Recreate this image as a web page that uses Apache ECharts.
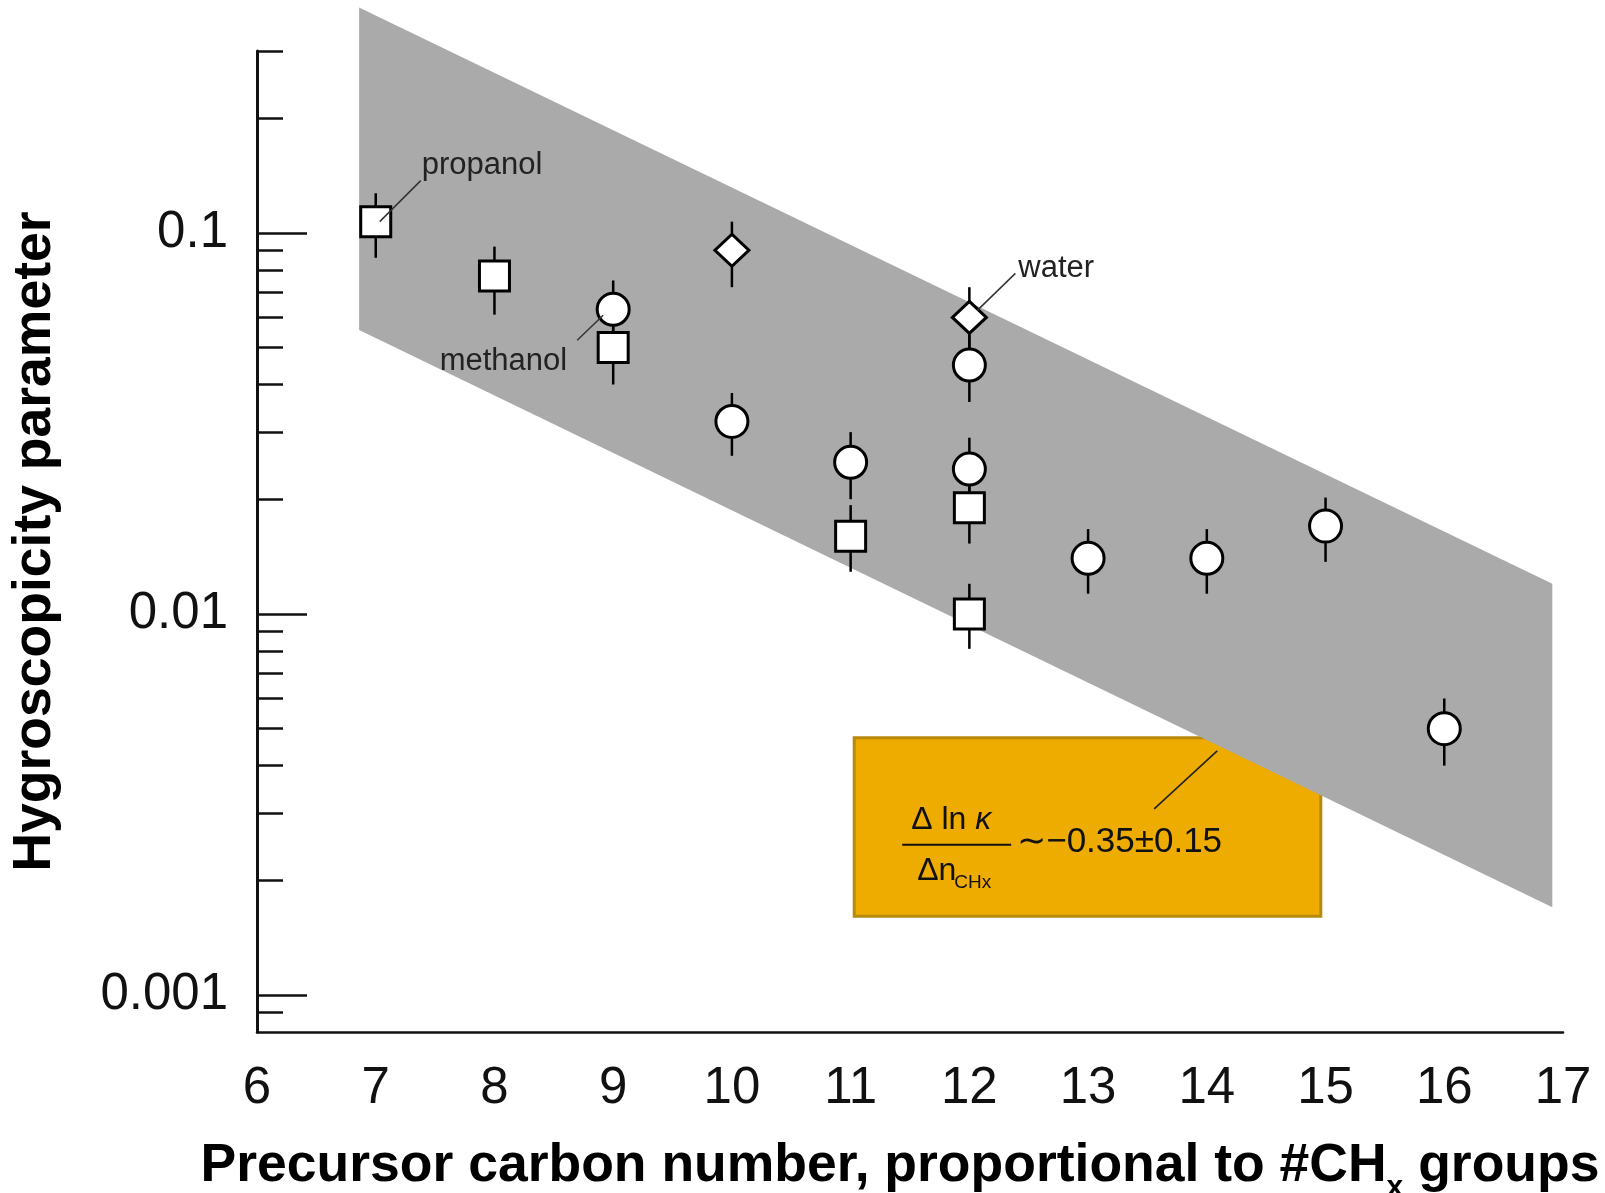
<!DOCTYPE html>
<html>
<head>
<meta charset="utf-8">
<script src="https://cdn.jsdelivr.net/npm/echarts@6/dist/echarts.min.js"></script>
<style>
html, body { margin: 0; padding: 0; background: #fff; }
#chart { width: 1605px; height: 1193px; }
</style>
</head>
<body>
<div id="chart"></div>
<script>
// axes
var xMin = 6, xMax = 17;
var yMin = 0.0008, yMax = 0.3;
var yMajorTicks = [0.001, 0.01, 0.1];
var yMajorLabels = ['0.001', '0.01', '0.1'];
var yMinorTicks = [0.0009, 0.002, 0.003, 0.004, 0.005, 0.006, 0.007, 0.008, 0.009,
                   0.02, 0.03, 0.04, 0.05, 0.06, 0.07, 0.08, 0.09, 0.2, 0.3];

// squares
var squareX  = [7, 8, 9, 11, 12, 12];
var squareY  = [0.107, 0.077, 0.050, 0.016, 0.019, 0.010];
var squareLo = [0.086, 0.061, 0.040, 0.0129, 0.0153, 0.0081];
var squareHi = [0.127, 0.092, 0.060, 0.0193, 0.0229, 0.0120];

// circles
var circleX  = [9, 10, 11, 12, 12, 13, 14, 15, 16];
var circleY  = [0.063, 0.032, 0.025, 0.045, 0.024, 0.014, 0.014, 0.017, 0.0050];
var circleLo = [0.050, 0.026, 0.020, 0.036, 0.019, 0.0113, 0.0113, 0.0137, 0.0040];
var circleHi = [0.075, 0.038, 0.030, 0.054, 0.029, 0.0167, 0.0167, 0.0202, 0.0060];

// diamonds
var diamondX  = [10, 12];
var diamondY  = [0.090, 0.060];
var diamondLo = [0.072, 0.048];
var diamondHi = [0.107, 0.072];

// grey band (slope ~ -0.35 in ln kappa per carbon)
var bandX      = [6.86, 16.91];
var bandTop    = [0.39, 0.0120];
var bandBottom = [0.0556, 0.0017];

// annotation box corners [x0, y0, x1, y1]
var boxCorners = [11.03, 0.00473, 14.96, 0.00161];

// point labels
var labelNames = ['propanol', 'methanol', 'water'];
var labelX = [7, 9, 12];
var labelY = [0.107, 0.063, 0.060];

var FONT = "'Liberation Sans', Arial, Helvetica, sans-serif";

function zip(xs, ys) {
  var out = [];
  for (var i = 0; i < xs.length; i++) out.push([xs[i], ys[i]]);
  return out;
}
function zip3(xs, a, b) {
  var out = [];
  for (var i = 0; i < xs.length; i++) out.push([xs[i], a[i], b[i]]);
  return out;
}
function logs(arr) {
  return arr.map(function (v) { return Math.log10(v); });
}

function renderErr(params, api) {
  var lo = api.coord([api.value(0), api.value(1)]);
  var hi = api.coord([api.value(0), api.value(2)]);
  return {
    type: 'line',
    shape: { x1: lo[0], y1: lo[1], x2: hi[0], y2: hi[1] },
    style: { stroke: '#000', lineWidth: 2.5 }
  };
}

function renderBand(params, api) {
  var pts = [
    api.coord([api.value(0), api.value(1)]),
    api.coord([api.value(2), api.value(3)]),
    api.coord([api.value(2), api.value(4)]),
    api.coord([api.value(0), api.value(5)])
  ];
  return { type: 'polygon', shape: { points: pts }, style: { fill: '#aaaaaa' } };
}

function renderBox(params, api) {
  var p0 = api.coord([api.value(0), api.value(1)]);
  var p1 = api.coord([api.value(2), api.value(3)]);
  return {
    type: 'rect',
    shape: { x: p0[0], y: p0[1], width: p1[0] - p0[0], height: p1[1] - p0[1] },
    style: { fill: '#efac00', stroke: '#b8890c', lineWidth: 3 }
  };
}

function renderFormula(params, api) {
  var p0 = api.coord([api.value(0), api.value(1)]);
  var x = p0[0], y = p0[1];
  return {
    type: 'group',
    children: [
      { type: 'line', shape: { x1: x + 300, y1: y + 71, x2: x + 363, y2: y + 13 },
        style: { stroke: '#222', lineWidth: 1.6 } },
      { type: 'text', x: x + 97, y: y + 82,
        style: { text: '{a|Δ ln }{k|κ}', align: 'center', verticalAlign: 'middle',
          rich: { a: { fontSize: 32, fontFamily: FONT, fill: '#111' },
                  k: { fontSize: 32, fontFamily: FONT, fontStyle: 'italic', fill: '#111' } } } },
      { type: 'line', shape: { x1: x + 48, y1: y + 107, x2: x + 157, y2: y + 107 },
        style: { stroke: '#111', lineWidth: 2 } },
      { type: 'text', x: x + 63, y: y + 133,
        style: { text: 'Δn', align: 'left', verticalAlign: 'middle',
          fontSize: 32, fontFamily: FONT, fill: '#111' } },
      { type: 'text', x: x + 100, y: y + 145,
        style: { text: 'CHx', align: 'left', verticalAlign: 'middle',
          fontSize: 19, fontFamily: FONT, fill: '#111' } },
      { type: 'text', x: x + 163, y: y + 104,
        style: { text: '∼−0.35±0.15', align: 'left', verticalAlign: 'middle',
          fontSize: 35, fontFamily: FONT, fill: '#111' } }
    ]
  };
}

// label offsets in pixels from the marker: leader start, leader end, text anchor
var labelLayout = {
  propanol: { l: [4, 0, 45, -41], t: [46, -56], align: 'left' },
  methanol: { l: [-10, 6, -36, 31], t: [-46, 52], align: 'right' },
  water:    { l: [8, -7, 46, -44], t: [49, -49], align: 'left' }
};

function renderLabel(params, api) {
  var p = api.coord([api.value(0), api.value(1)]);
  var name = labelNames[params.dataIndex];
  var L = labelLayout[name];
  return {
    type: 'group',
    children: [
      { type: 'line',
        shape: { x1: p[0] + L.l[0], y1: p[1] + L.l[1], x2: p[0] + L.l[2], y2: p[1] + L.l[3] },
        style: { stroke: '#333', lineWidth: 1.5 } },
      { type: 'text', x: p[0] + L.t[0], y: p[1] + L.t[1],
        style: { text: name, align: L.align, verticalAlign: 'middle',
          fontSize: 31, fontFamily: FONT, fill: '#222' } }
    ]
  };
}

var myChart = echarts.init(document.getElementById('chart'));

var markerStyle = { color: '#fff', borderColor: '#000', borderWidth: 3, opacity: 1 };

var option = {
  backgroundColor: '#fff',
  animation: false,
  grid: { left: 257, right: 42, top: 51, bottom: 161, containLabel: false, outerBoundsMode: 'none' },
  xAxis: {
    type: 'value',
    min: xMin, max: xMax, interval: 1,
    axisLine: { show: true, lineStyle: { color: '#111', width: 2.5 } },
    axisTick: { show: false },
    splitLine: { show: false },
    axisLabel: { fontSize: 51, fontFamily: FONT, color: '#111', margin: 31 },
    name: '{a|Precursor carbon number, proportional to #CH}{s|x}{a| groups}',
    nameLocation: 'middle',
    nameGap: 107,
    nameTextStyle: {
      padding: [0, 20, 0, 0],
      rich: {
        a: { fontSize: 53.5, fontWeight: 'bold', fontFamily: FONT, color: '#000',
             verticalAlign: 'middle' },
        s: { fontSize: 30, fontWeight: 'bold', fontFamily: FONT, color: '#000',
             verticalAlign: 'top', lineHeight: 30, padding: [34, 0, 0, 0] }
      }
    }
  },
  yAxis: [
    {
      type: 'log',
      min: yMin, max: yMax,
      position: 'left',
      axisLine: { show: true, lineStyle: { color: '#111', width: 3 } },
      axisTick: { show: false },
      axisLabel: { show: false },
      splitLine: { show: false },
      name: 'Hygroscopicity parameter',
      nameLocation: 'middle',
      nameGap: 195,
      nameTextStyle: { fontSize: 53.5, fontWeight: 'bold', fontFamily: FONT, color: '#000' }
    },
    {
      type: 'value',
      min: Math.log10(yMin), max: Math.log10(yMax),
      position: 'left', offset: 0,
      axisLine: { show: false },
      axisTick: { show: true, inside: true, length: 50, customValues: logs(yMajorTicks),
                  lineStyle: { color: '#111', width: 2.5 } },
      axisLabel: {
        customValues: logs(yMajorTicks),
        fontSize: 51, fontFamily: FONT, color: '#111', margin: 29,
        formatter: function (v) {
          for (var i = 0; i < yMajorTicks.length; i++) {
            if (Math.abs(v - Math.log10(yMajorTicks[i])) < 1e-6) return yMajorLabels[i];
          }
          return '';
        }
      },
      splitLine: { show: false }
    },
    {
      type: 'value',
      min: Math.log10(yMin), max: Math.log10(yMax),
      position: 'left', offset: 0,
      axisLine: { show: false },
      axisTick: { show: true, inside: true, length: 26, customValues: logs(yMinorTicks),
                  lineStyle: { color: '#111', width: 2.5 } },
      axisLabel: { show: false },
      splitLine: { show: false }
    }
  ],
  series: [
    {
      name: 'box', type: 'custom', z: 1, silent: true, clip: false,
      renderItem: renderBox,
      encode: { x: [0, 2], y: [1, 3] },
      data: [boxCorners]
    },
    {
      name: 'band', type: 'custom', z: 2, silent: true, clip: false,
      renderItem: renderBand,
      encode: { x: [0, 2], y: [1, 3, 4, 5] },
      data: [[bandX[0], bandTop[0], bandX[1], bandTop[1], bandBottom[1], bandBottom[0]]]
    },
    {
      name: 'formula', type: 'custom', z: 3, silent: true, clip: false,
      renderItem: renderFormula,
      encode: { x: 0, y: 1 },
      data: [[boxCorners[0], boxCorners[1]]]
    },
    {
      name: 'errSquare', type: 'custom', z: 4, silent: true, clip: false,
      renderItem: renderErr, encode: { x: 0, y: [1, 2] },
      data: zip3(squareX, squareLo, squareHi)
    },
    {
      name: 'errCircle', type: 'custom', z: 4, silent: true, clip: false,
      renderItem: renderErr, encode: { x: 0, y: [1, 2] },
      data: zip3(circleX, circleLo, circleHi)
    },
    {
      name: 'errDiamond', type: 'custom', z: 4, silent: true, clip: false,
      renderItem: renderErr, encode: { x: 0, y: [1, 2] },
      data: zip3(diamondX, diamondLo, diamondHi)
    },
    {
      name: 'squares', type: 'scatter', z: 5, symbol: 'rect', symbolSize: 30,
      itemStyle: markerStyle, data: zip(squareX, squareY)
    },
    {
      name: 'circles', type: 'scatter', z: 5, symbol: 'circle', symbolSize: 32,
      itemStyle: markerStyle, data: zip(circleX, circleY)
    },
    {
      name: 'diamonds', type: 'scatter', z: 5, symbol: 'diamond', symbolSize: [34, 32],
      itemStyle: markerStyle, data: zip(diamondX, diamondY)
    },
    {
      name: 'labels', type: 'custom', z: 6, silent: true, clip: false,
      renderItem: renderLabel, encode: { x: 0, y: 1 },
      data: zip(labelX, labelY)
    }
  ]
};
myChart.setOption(option);
</script>
</body>
</html>
